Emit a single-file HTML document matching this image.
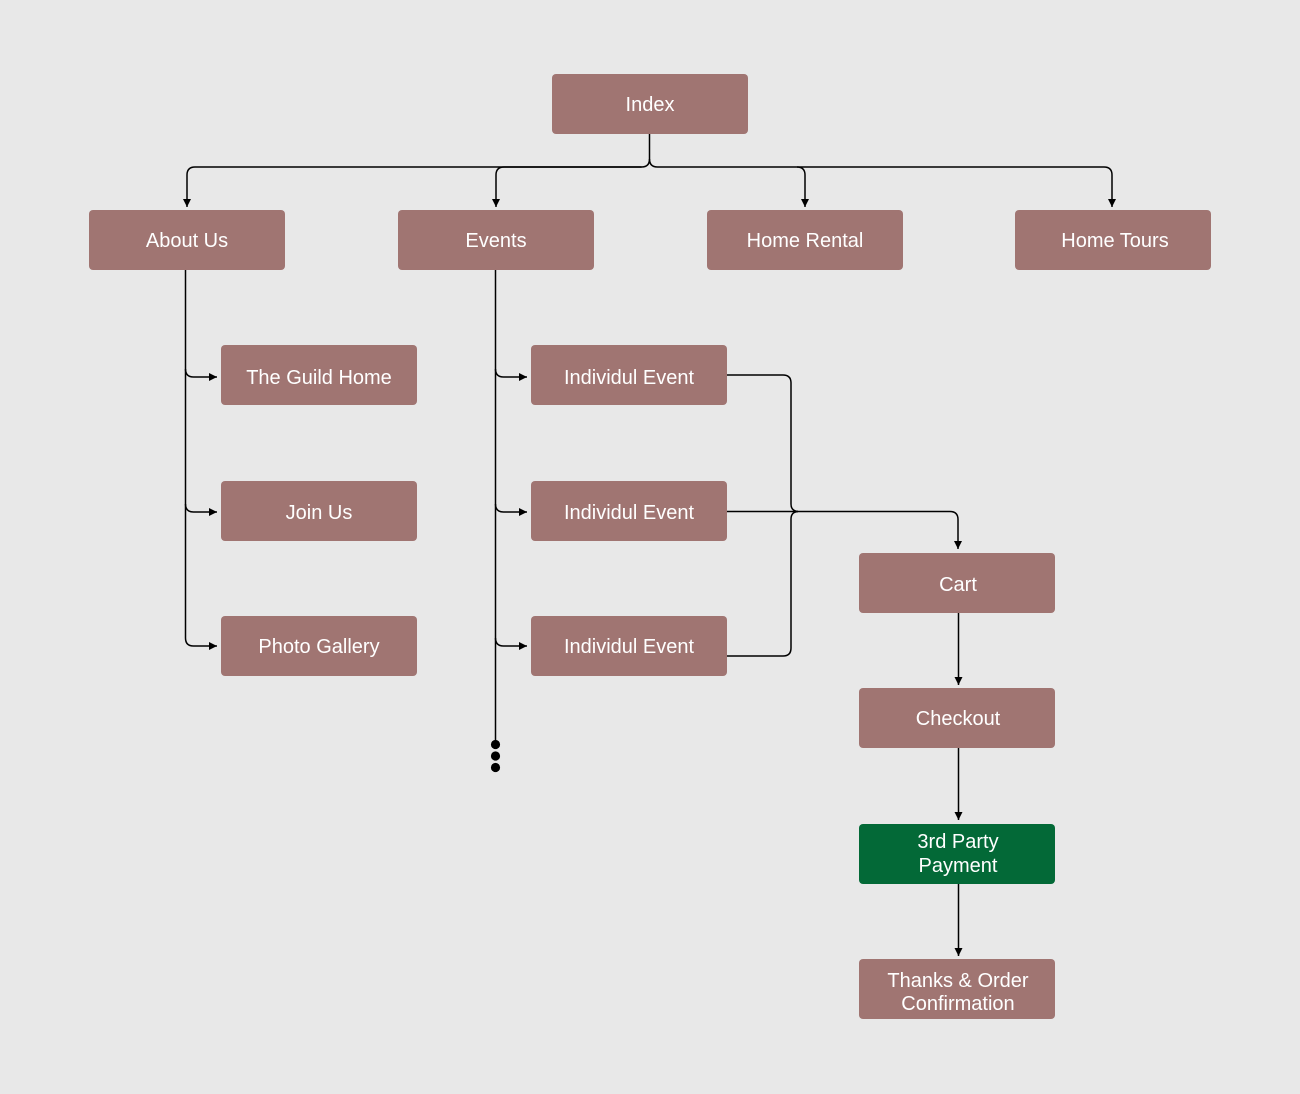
<!DOCTYPE html>
<html><head><meta charset="utf-8"><style>
html,body{margin:0;padding:0;background:#e8e8e8;}
svg{display:block;}
text{font-family:"Liberation Sans",sans-serif;font-size:20px;fill:#fff;text-anchor:middle;}
</style></head><body>
<svg width="1300" height="1094" viewBox="0 0 1300 1094" xmlns="http://www.w3.org/2000/svg">
<defs>
<marker id="a" markerWidth="8" markerHeight="8" refX="8" refY="4" orient="auto" markerUnits="userSpaceOnUse">
<path d="M0,0 L8,4 L0,8 z" fill="#000"/></marker>
</defs>
<rect width="1300" height="1094" fill="#e8e8e8"/>
<g fill="none" stroke="#000" stroke-width="1.5">
<path d="M649.5,134 V159 Q649.5,167 641.5,167 H195 Q187,167 187,175 V207" marker-end="url(#a)"/>
<path d="M641.5,167 H504 Q496,167 496,175 V207" marker-end="url(#a)"/>
<path d="M649.5,159 Q649.5,167 657.5,167 H797 Q805,167 805,175 V207" marker-end="url(#a)"/>
<path d="M797,167 H1104 Q1112,167 1112,175 V207" marker-end="url(#a)"/>
<path d="M185.5,270 V638 Q185.5,646 193.5,646 H217" marker-end="url(#a)"/>
<path d="M185.5,369 Q185.5,377 193.5,377 H217" marker-end="url(#a)"/>
<path d="M185.5,504 Q185.5,512 193.5,512 H217" marker-end="url(#a)"/>
<path d="M495.5,270 V745"/>
<path d="M495.5,369 Q495.5,377 503.5,377 H527" marker-end="url(#a)"/>
<path d="M495.5,504 Q495.5,512 503.5,512 H527" marker-end="url(#a)"/>
<path d="M495.5,638 Q495.5,646 503.5,646 H527" marker-end="url(#a)"/>
<path d="M727,375 H783 Q791,375 791,383 V504 Q791,511 798,511.5"/>
<path d="M727,656 H783 Q791,656 791,648 V519 Q791,512 798,511.5"/>
<path d="M727,511.5 H950 Q958,511.5 958,519.5 V549" marker-end="url(#a)"/>
<path d="M958.5,613 V685" marker-end="url(#a)"/>
<path d="M958.5,748 V820" marker-end="url(#a)"/>
<path d="M958.5,884 V956" marker-end="url(#a)"/>
</g>
<circle cx="495.5" cy="744.5" r="4.6" fill="#000"/>
<circle cx="495.5" cy="756" r="4.6" fill="#000"/>
<circle cx="495.5" cy="767.5" r="4.6" fill="#000"/>
<g fill="#a07572">
<rect x="552" y="74" width="196" height="60" rx="4"/>
<rect x="89" y="210" width="196" height="60" rx="4"/>
<rect x="398" y="210" width="196" height="60" rx="4"/>
<rect x="707" y="210" width="196" height="60" rx="4"/>
<rect x="1015" y="210" width="196" height="60" rx="4"/>
<rect x="221" y="345" width="196" height="60" rx="4"/>
<rect x="221" y="481" width="196" height="60" rx="4"/>
<rect x="221" y="616" width="196" height="60" rx="4"/>
<rect x="531" y="345" width="196" height="60" rx="4"/>
<rect x="531" y="481" width="196" height="60" rx="4"/>
<rect x="531" y="616" width="196" height="60" rx="4"/>
<rect x="859" y="553" width="196" height="60" rx="4"/>
<rect x="859" y="688" width="196" height="60" rx="4"/>
<rect x="859" y="959" width="196" height="60" rx="4"/>
</g>
<rect x="859" y="824" width="196" height="60" rx="4" fill="#036937"/>
<text x="650" y="111">Index</text>
<text x="187" y="247">About Us</text>
<text x="496" y="247">Events</text>
<text x="805" y="247">Home Rental</text>
<text x="1115" y="247">Home Tours</text>
<text x="319" y="384">The Guild Home</text>
<text x="319" y="519">Join Us</text>
<text x="319" y="653">Photo Gallery</text>
<text x="629" y="384">Individul Event</text>
<text x="629" y="519">Individul Event</text>
<text x="629" y="653">Individul Event</text>
<text x="958" y="591">Cart</text>
<text x="958" y="725">Checkout</text>
<text x="958" y="848">3rd Party</text>
<text x="958" y="872">Payment</text>
<text x="958" y="987">Thanks &amp; Order</text>
<text x="958" y="1010">Confirmation</text>
</svg>
</body></html>
